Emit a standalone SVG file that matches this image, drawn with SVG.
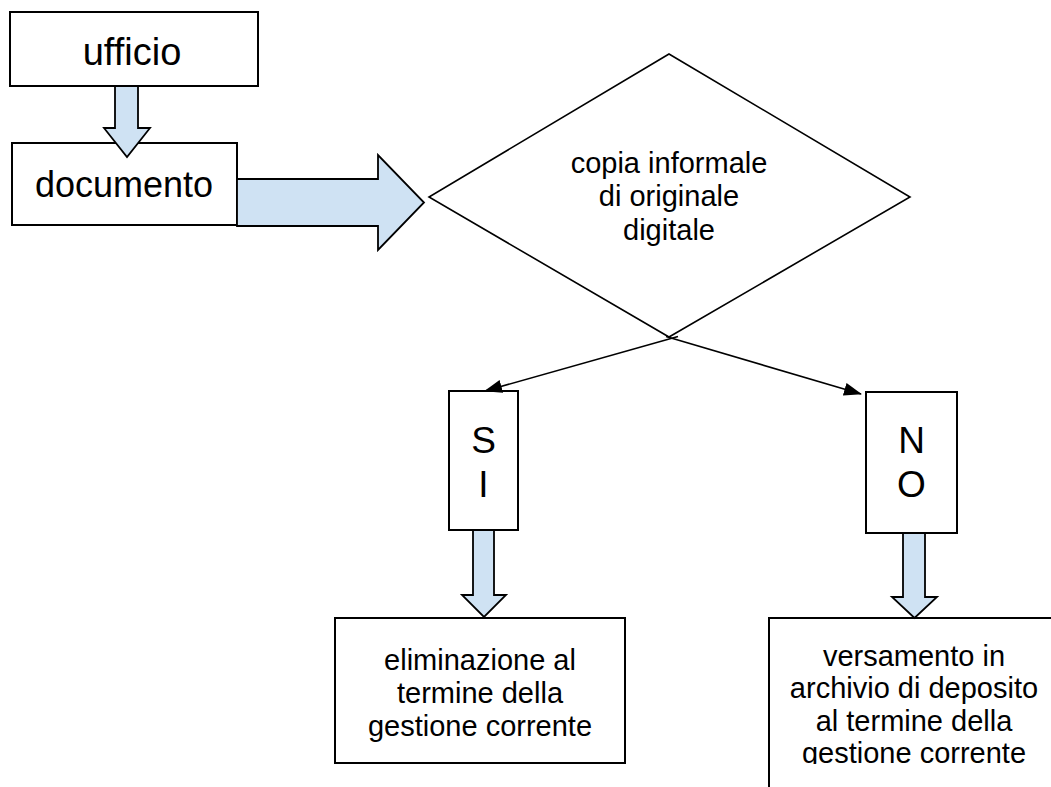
<svg xmlns="http://www.w3.org/2000/svg" width="1051" height="787" viewBox="0 0 1051 787">
<style>
.box{fill:#fff;stroke:#000;stroke-width:2}
.dia{fill:#fff;stroke:#000;stroke-width:1.6}
.blk{fill:#cfe2f3;stroke:#000;stroke-width:1.8;stroke-linejoin:miter}
.con{fill:none;stroke:#000;stroke-width:1.6}
text{font-family:"Liberation Sans",Arial,sans-serif;fill:#000;text-anchor:middle}
.t29{font-size:29px}
.t36{font-size:36px}
.t37{font-size:37px}
.t38{font-size:38px}
</style>
<defs>
<marker id="ah" viewBox="0 0 18 13" refX="17" refY="6.5" markerWidth="18" markerHeight="13" markerUnits="userSpaceOnUse" orient="auto">
<path d="M0,0 L18,6.5 L0,13 z" fill="#000"/>
</marker>
<clipPath id="clipV"><rect x="769" y="618" width="282" height="146"/></clipPath>
</defs>
<rect width="1051" height="787" fill="#fff"/>
<g id="ufficio">
<rect class="box" x="10" y="12" width="248" height="74"/>
<text class="t38" x="132" y="65">ufficio</text>
</g>
<g id="documento">
<rect class="box" x="12" y="143" width="225" height="82"/>
<text class="t36" x="124" y="197">documento</text>
</g>
<g id="decisione">
<polygon class="dia" points="669,54 910,197 669,337 429,197"/>
<text class="t29" x="669" y="173">copia informale</text>
<text class="t29" x="669" y="206">di originale</text>
<text class="t29" x="669" y="240">digitale</text>
</g>
<g id="si">
<rect class="box" x="449" y="391" width="69" height="139"/>
<text class="t37" x="483.5" y="453">S</text>
<text class="t37" x="483.5" y="497">I</text>
</g>
<g id="no">
<rect class="box" x="866" y="392" width="91" height="141"/>
<text class="t37" x="911.5" y="453">N</text>
<text class="t37" x="911.5" y="497">O</text>
</g>
<g id="eliminazione">
<rect class="box" x="335" y="618" width="290" height="145"/>
<text class="t29" x="480" y="670">eliminazione al</text>
<text class="t29" x="480" y="703">termine della</text>
<text class="t29" x="480" y="736">gestione corrente</text>
</g>
<g id="versamento">
<rect class="box" x="769" y="618" width="300" height="200"/>
<g clip-path="url(#clipV)">
<text class="t29" x="914" y="666">versamento in</text>
<text class="t29" x="914" y="698">archivio di deposito</text>
<text class="t29" x="914" y="731">al termine della</text>
<text class="t29" x="914" y="763">gestione corrente</text>
</g>
</g>
<g id="connectors">
<polygon class="blk" points="115,86 138,86 138,128 150,128 127,157 104,128 115,128"/>
<polygon class="blk" points="237,179 378,179 378,155 424,202.5 378,250 378,226 237,226"/>
<polygon class="blk" points="473,530 494,530 494,595 506,595 484,617 462,595 473,595"/>
<polygon class="blk" points="903,533 925,533 925,597 937,597 914.5,618 892,597 903,597"/>
<line class="con" x1="678" y1="336.5" x2="485" y2="391" marker-end="url(#ah)"/>
<line class="con" x1="666" y1="336.5" x2="861" y2="394" marker-end="url(#ah)"/>
</g>
</svg>
